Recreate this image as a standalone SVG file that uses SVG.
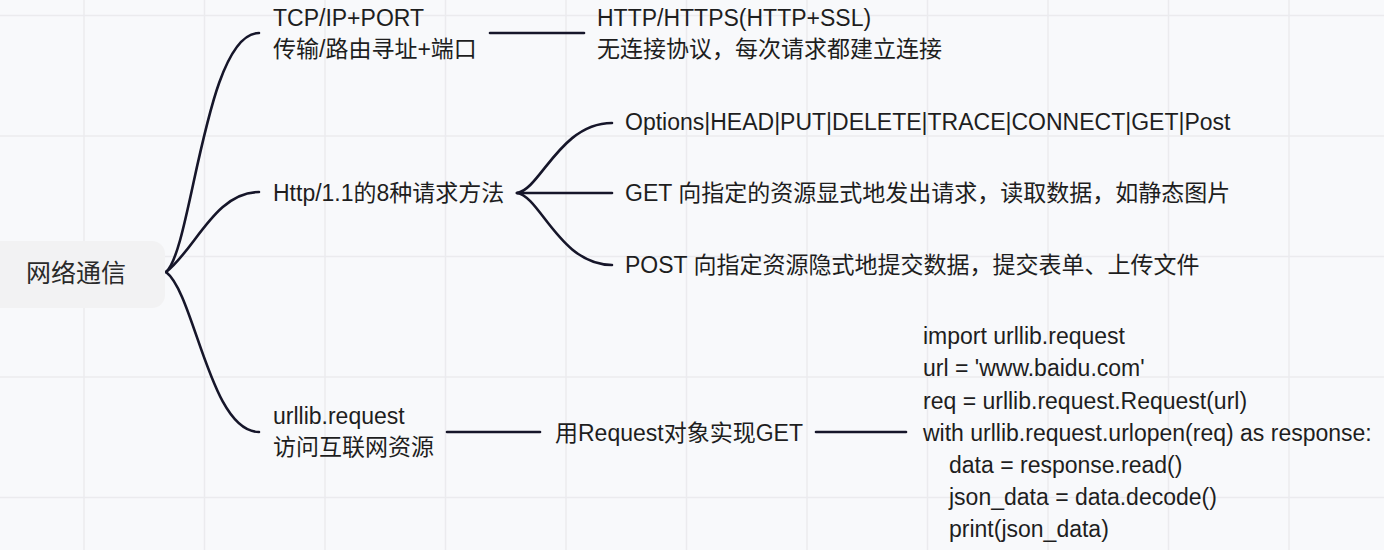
<svg xmlns="http://www.w3.org/2000/svg" width="1384" height="550" viewBox="0 0 1384 550">
<style>
.bg{fill:#f8f9fb}
.grid{stroke:#ebebee;stroke-width:1.5;fill:none}
.t{font-family:"Liberation Sans","Noto Sans CJK SC",sans-serif;font-size:23px;fill:#1e1e1e}
.root{font-family:"Liberation Sans","Noto Sans CJK SC",sans-serif;font-size:25px;fill:#2a2a2a}
.c{stroke:#16162a;stroke-width:2.6;fill:none;stroke-linecap:round}
</style>
<rect class="bg" x="0" y="0" width="1384" height="550"/>
<path class="grid" d="M84 0V550M204.5 0V550M325 0V550M445.5 0V550M566 0V550M686.5 0V550M807 0V550M927.5 0V550M1048 0V550M1168.5 0V550M1289 0V550M0 15.5H1384M0 136H1384M0 256.5H1384M0 377H1384M0 497.5H1384"/>
<g id="connectors">
<path class="c" d="M166 272 C192 250 205 33 259 33"/>
<path class="c" d="M166 272 C195 250 215 192 259 192"/>
<path class="c" d="M166 272 C195 294 210 432 259 432"/>
<path class="c" d="M490 33 H584"/>
<path class="c" d="M517 193 C540 190 560 123 612 123"/>
<path class="c" d="M517 193 H612"/>
<path class="c" d="M517 193 C540 196 560 265 612 265"/>
<path class="c" d="M447 432 H540"/>
<path class="c" d="M816 432 H906"/>
</g>
<g id="root">
<rect x="-12" y="241" width="177" height="67" rx="13" fill="#f2f2f3"/>
<text class="root" x="26" y="282">网络通信</text>
</g>
<g id="tcp">
<text class="t" x="273" y="26">TCP/IP+PORT</text>
<text class="t" x="273" y="57">传输/路由寻址+端口</text>
</g>
<g id="http-https">
<text class="t" x="597" y="26">HTTP/HTTPS(HTTP+SSL)</text>
<text class="t" x="597" y="57">无连接协议，每次请求都建立连接</text>
</g>
<g id="http-methods">
<text class="t" x="273" y="201">Http/1.1的8种请求方法</text>
</g>
<g id="options">
<text class="t" x="625" y="130">Options|HEAD|PUT|DELETE|TRACE|CONNECT|GET|Post</text>
</g>
<g id="get">
<text class="t" x="625" y="201">GET 向指定的资源显式地发出请求，读取数据，如静态图片</text>
</g>
<g id="post">
<text class="t" x="625" y="273">POST 向指定资源隐式地提交数据，提交表单、上传文件</text>
</g>
<g id="urllib">
<text class="t" x="273" y="424">urllib.request</text>
<text class="t" x="273" y="455">访问互联网资源</text>
</g>
<g id="request-get">
<text class="t" x="555" y="441">用Request对象实现GET</text>
</g>
<g id="code">
<text class="t" x="923" y="344">import urllib.request</text>
<text class="t" x="923" y="376">url = 'www.baidu.com'</text>
<text class="t" x="923" y="409">req = urllib.request.Request(url)</text>
<text class="t" x="923" y="441">with urllib.request.urlopen(req) as response:</text>
<text class="t" x="949" y="473">data = response.read()</text>
<text class="t" x="949" y="505">json_data = data.decode()</text>
<text class="t" x="949" y="537">print(json_data)</text>
</g>
</svg>
